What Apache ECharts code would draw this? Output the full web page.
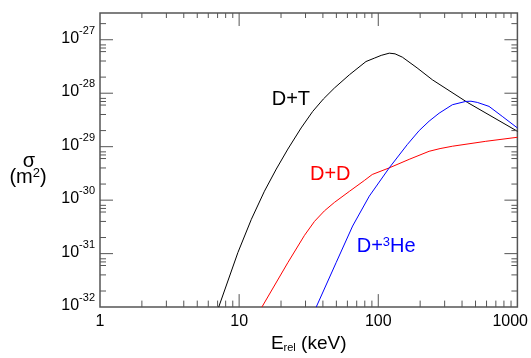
<!DOCTYPE html>
<html><head><meta charset="utf-8">
<script src="https://cdn.jsdelivr.net/npm/echarts@6/dist/echarts.min.js"></script>
<style>html,body{margin:0;padding:0;background:#fff}#c{width:531px;height:358px}</style>
</head><body><div id="c"></div>
<script>
// ---- data (energy in keV, cross section in m^2) ----
const dtEnergy = [7.13, 9.8, 12.24, 15.2, 18.5, 22.4, 27.9, 33.8, 40.3, 48.4, 62, 81.6, 93.6, 105, 120, 132, 149, 190, 245, 437, 1000];
const dtSigma  = [1e-32, 1.05e-31, 4.38e-31, 1.47e-30, 3.82e-30, 9.02e-30, 2.24e-29, 4.57e-29, 7.78e-29, 1.25e-28, 2.21e-28, 3.91e-28, 4.52e-28, 5.1e-28, 5.61e-28, 5.45e-28, 4.72e-28, 2.98e-28, 1.78e-28, 6.73e-29, 1.94e-29];
const ddEnergy = [14.57, 22.4, 29.5, 34.8, 41.0, 48.4, 62.0, 79.4, 90.5, 120, 166.8, 232, 278, 341, 592, 1000];
const ddSigma  = [1e-32, 6.8e-32, 2.2e-31, 4.01e-31, 6.3e-31, 9.07e-31, 1.46e-30, 2.33e-30, 3.02e-30, 4.02e-30, 5.8e-30, 8.2e-30, 9.21e-30, 1.02e-29, 1.26e-29, 1.5e-29];
const dheEnergy = [35.8, 49.8, 65.4, 86.2, 120, 161.4, 196.8, 232, 273.7, 341, 425, 464, 515, 625, 778, 1000];
const dheSigma  = [1e-32, 6.8e-32, 3.28e-31, 1.19e-30, 4.03e-30, 1.09e-29, 2.0e-29, 3.0e-29, 4.23e-29, 6.09e-29, 7.02e-29, 7.08e-29, 6.73e-29, 5.67e-29, 3.69e-29, 2.24e-29];
const xTickLabels = ['1', '10', '100', '1000'];
const xMin = 1, xMax = 1000;
const yMinExp = -32, yMaxExp = -26.5;
const xMinorMult = [2, 3, 4, 5, 6, 7, 8, 9];
const yMinorMult = [2, 4, 6, 7, 8];

// ---- build ----
const UNIT = Math.pow(10, yMinExp);
const yMin = 1, yMax = Math.pow(10, yMaxExp - yMinExp);
const pairs = (E, S) => E.map((e, i) => [e, S[i] / UNIT]);
const FONT = 'Liberation Sans, Arial, sans-serif';

const ticks = [];
for (let d = 1; d < xMax; d *= 10) {
  if (d > 1) { ticks.push([d, yMin, 13, 0]); ticks.push([d, yMax, 13, 1]); }
  xMinorMult.forEach(m => { ticks.push([m * d, yMin, 6.5, 0]); ticks.push([m * d, yMax, 5, 1]); });
}
for (let k = yMinExp; k <= Math.floor(yMaxExp); k++) {
  const d = Math.pow(10, k - yMinExp);
  if (k > yMinExp) { ticks.push([xMin, d, 13, 2]); ticks.push([xMax, d, 13, 3]); }
  yMinorMult.forEach(m => { const v = m * d; if (v < yMax) { ticks.push([xMin, v, 6, 2]); ticks.push([xMax, v, 6, 3]); } });
}

const chart = echarts.init(document.getElementById('c'), null, {renderer: 'canvas'});
const lineS = (data, color) => ({type: 'line', data, symbol: 'none', showSymbol: false, clip: true,
  lineStyle: {color, width: 1}, animation: false, silent: true, z: 3});

chart.setOption({
  animation: false,
  backgroundColor: '#fff',
  grid: {left: 100, right: 12.5, top: 13, bottom: 50, show: true, borderColor: '#555', borderWidth: 1.5, backgroundColor: 'transparent'},
  xAxis: {
    type: 'log', logBase: 10, min: xMin, max: xMax,
    axisLine: {show: false}, axisTick: {show: false}, splitLine: {show: false}, minorTick: {show: false},
    axisLabel: {
      margin: 6, fontSize: 16, color: '#000', fontFamily: FONT,
      formatter: v => {
        const e = Math.log10(v); const r = Math.round(e);
        if (Math.abs(e - r) > 1e-6) return '';
        const s = xTickLabels[r];
        if (s === undefined) return '';
        return r === xTickLabels.length - 1 ? '{last|' + s + '}' : s;
      },
      rich: {last: {width: 50, align: 'left', fontSize: 16, color: '#000', fontFamily: FONT}}
    },
    name: '{e|E}{s|rel}{n| (keV)}', nameLocation: 'middle', nameGap: 25,
    nameTextStyle: {rich: {
      e: {fontSize: 19, fontFamily: FONT, color: '#000', verticalAlign: 'bottom'},
      s: {fontSize: 11, fontFamily: FONT, color: '#000', verticalAlign: 'bottom'},
      n: {fontSize: 19, fontFamily: FONT, color: '#000', verticalAlign: 'bottom'}
    }}
  },
  yAxis: {
    type: 'log', logBase: 10, min: yMin, max: yMax,
    axisLine: {show: false}, axisTick: {show: false}, splitLine: {show: false}, minorTick: {show: false},
    axisLabel: {
      margin: 5, color: '#000', fontFamily: FONT,
      formatter: v => {
        const e = Math.log10(v); const r = Math.round(e);
        if (Math.abs(e - r) > 1e-6) return '';
        return '{b|10}{s|' + (r + yMinExp) + '}';
      },
      rich: {
        b: {fontSize: 16, fontFamily: FONT, color: '#000', verticalAlign: 'bottom', padding: [0, 0, 8, 0]},
        s: {fontSize: 11, fontFamily: FONT, color: '#000', verticalAlign: 'top', padding: [0, 0, 18, 0]}
      }
    }
  },
  series: [
    lineS(pairs(dtEnergy, dtSigma), '#000000'),
    lineS(pairs(ddEnergy, ddSigma), '#ff0000'),
    lineS(pairs(dheEnergy, dheSigma), '#0000ff'),
    {
      type: 'custom', data: ticks, silent: true, animation: false, z: 4,
      encode: {x: 0, y: 1},
      renderItem: (params, api) => {
        const p = api.coord([api.value(0), api.value(1)]);
        const len = api.value(2), side = api.value(3);
        let x2 = p[0], y2 = p[1];
        if (side === 0) y2 = p[1] - len; else if (side === 1) y2 = p[1] + len;
        else if (side === 2) x2 = p[0] + len; else x2 = p[0] - len;
        return {type: 'line', shape: {x1: p[0], y1: p[1], x2, y2}, style: {stroke: '#555', lineWidth: 1}};
      }
    }
  ],
  graphic: [
    {type: 'text', x: 271.7, y: 99.7, silent: true, style: {text: 'D+T', fontSize: 20, fontFamily: FONT, fill: '#000', align: 'left', verticalAlign: 'middle'}},
    {type: 'text', x: 310, y: 174.7, silent: true, style: {text: 'D+D', fontSize: 20, fontFamily: FONT, fill: '#ff0000', align: 'left', verticalAlign: 'middle'}},
    {type: 'text', x: 356.7, y: 246.3, silent: true, style: {text: '{a|D+}{s|3}{a|He}', align: 'left', verticalAlign: 'middle',
      rich: {a: {fontSize: 20, fontFamily: FONT, fill: '#0000ff', verticalAlign: 'bottom'}, s: {fontSize: 13, fontFamily: FONT, fill: '#0000ff', verticalAlign: 'top', padding: [0, 0, 3, 0]}}}},
    {type: 'text', x: 29, y: 161, silent: true, style: {text: 'σ', fontSize: 20, fontFamily: FONT, fill: '#000', align: 'center', verticalAlign: 'middle'}},
    {type: 'text', x: 28, y: 177, silent: true, style: {text: '{a|(m}{s|2}{a|)}', align: 'center', verticalAlign: 'middle',
      rich: {a: {fontSize: 20, fontFamily: FONT, fill: '#000', verticalAlign: 'bottom'}, s: {fontSize: 13, fontFamily: FONT, fill: '#000', verticalAlign: 'top', padding: [0, 0, 3, 0]}}}}
  ]
});
</script>
</body></html>
